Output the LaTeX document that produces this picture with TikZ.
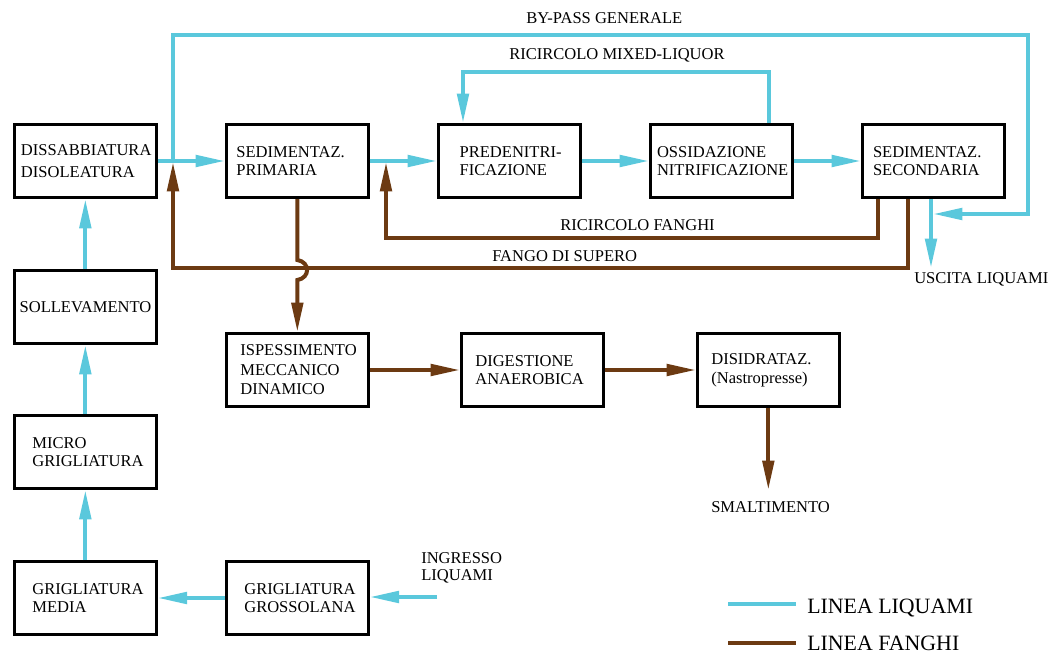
\documentclass[tikz,border=0pt]{standalone}
\usepackage{fontspec}
\setmainfont{Liberation Serif}
\usetikzlibrary{arrows.meta}
\definecolor{liq}{RGB}{90,200,220}
\definecolor{fan}{RGB}{108,58,18}
\hyphenpenalty=10000
\exhyphenpenalty=10000

\begin{document}
\begin{tikzpicture}[x=0.75pt,y=-0.75pt,
  every node/.style={font=\fontsize{12.4}{14}\selectfont},
  unit/.style 2 args={draw, line width=2pt, anchor=north west,
    minimum height=55pt, inner ysep=0pt, inner xsep=#1, text width=#2, align=left},
  lbl/.style={anchor=base west, inner sep=0pt},
  liqline/.style={draw=liq, line width=3pt},
  fanline/.style={draw=fan, line width=3pt},
  flowtip/.style={-{Triangle[length=22pt,width=8.5pt]}},
]
\useasboundingbox (0,0) rectangle (1051,653);

% treatment units: water line
\node[unit={5pt}{96.5pt}]   (dis)  at (13,123)  {DISSABBIATURA\\[2.3pt]DISOLEATURA};
\node[unit={7.5pt}{91.5pt}] (sedp) at (225,123) {SEDIMENTAZ.\\PRIMARIA};
\node[unit={16pt}{74.5pt}]  (pred) at (437,123) {\mbox{PREDENITRI-}\\FICAZIONE};
\node[unit={5pt}{96.5pt}]   (ossi) at (649,123) {OSSIDAZIONE\\NITRIFICAZIONE};
\node[unit={8pt}{90.5pt}]   (seds) at (861,123) {SEDIMENTAZ.\\SECONDARIA};
\node[unit={4pt}{98.5pt}]   (soll) at (13,269)  {SOLLEVAMENTO};
\node[unit={13.5pt}{79.5pt}] (micro) at (13,414) {MICRO\\GRIGLIATURA};
\node[unit={13.5pt}{79.5pt}] (media) at (13,560) {GRIGLIATURA\\MEDIA};
\node[unit={13.5pt}{79.5pt}] (gross) at (225,560) {GRIGLIATURA\\GROSSOLANA};

% treatment units: sludge line
\node[unit={10.5pt}{85.5pt}] (isp)   at (225,332) {ISPESSIMENTO\\[0.6pt]MECCANICO\\[0.6pt]DINAMICO};
\node[unit={10.5pt}{85.5pt}] (dig)   at (460,332) {DIGESTIONE\\ANAEROBICA};
\node[unit={10.5pt}{85.5pt}] (disid) at (696,332) {DISIDRATAZ.\\(Nastropresse)};

% free ends and bends
\coordinate (in)   at (437,597);
\coordinate (bpA)  at (173,160);
\coordinate (bpB)  at (1028,35);
\coordinate (bpC)  at (933,214);
\coordinate (out)  at (931,268);
\coordinate (mlA)  at (769,72);
\coordinate (mlB)  at (463,72);
\coordinate (rfA)  at (878,238);
\coordinate (rfB)  at (386,162);
\coordinate (fsA)  at (908,268);
\coordinate (fsB)  at (173,162);
\path (sedp.south) ++(0,61) coordinate (jA) ++(0,20) coordinate (jB);
\coordinate (sm)   at (767,490);

% water line
\draw[liqline,flowtip] (in) -- (gross.east |- in);
\draw[liqline,flowtip] (gross.west) -- (media.east);
\draw[liqline,flowtip] (media.north) -- (micro.south);
\draw[liqline,flowtip] (micro.north) -- (soll.south);
\draw[liqline,flowtip] (soll.north) -- (dis.south);
\draw[liqline,flowtip] (dis.east) -- (sedp.west);
\draw[liqline,flowtip] (sedp.east) -- (pred.west);
\draw[liqline,flowtip] (pred.east) -- (ossi.west);
\draw[liqline,flowtip] (ossi.east) -- (seds.west);
\draw[liqline,flowtip] (ossi.north -| mlA) -- (mlA) -| (pred.north -| mlB);
\draw[liqline,flowtip] (bpA) |- (bpB) |- (bpC);
\draw[liqline,flowtip] (seds.south -| out) -- (out);

% sludge line (the primary sludge pipe hops over the excess sludge pipe)
\draw[fanline,flowtip] (seds.south -| rfA) -- (rfA) -| (rfB);
\draw[fanline,flowtip] (seds.south -| fsA) -- (fsA) -| (fsB);
\draw[fanline,flowtip] (sedp.south) -- (jA)
  .. controls +(13,2) and +(13,-2) .. (jB) -- (isp.north);
\draw[fanline,flowtip] (isp.east) -- (dig.west);
\draw[fanline,flowtip] (dig.east) -- (disid.west);
\draw[fanline,flowtip] (disid.south) -- (disid.south |- sm);

% line labels
\node[lbl] (lbyp) at (526,23)  {BY-PASS GENERALE};
\node[lbl] (lmix) at (509,60)  {RICIRCOLO MIXED-LIQUOR};
\node[lbl] (lrf)  at (560,230) {RICIRCOLO FANGHI};
\node[lbl] (lfs)  at (492,261) {FANGO DI SUPERO};
\node[lbl] (lout) at (914,283) {USCITA LIQUAMI};
\node[lbl] (lsm)  at (711,512) {SMALTIMENTO};
\node[anchor=north west, inner sep=0pt, align=left,
      font=\fontsize{12.4}{13}\selectfont] (lin) at (421,552) {INGRESSO\\LIQUAMI};

% legend
\coordinate (lgA) at (728,604);
\coordinate (lgB) at (728,643);
\draw[draw=liq, line width=3.5pt] (lgA) -- ++(68,0);
\draw[draw=fan, line width=3.5pt] (lgB) -- ++(68,0);
\node[lbl, font=\fontsize{16.4}{19}\selectfont] (lg1) at (807,613) {LINEA LIQUAMI};
\node[lbl, font=\fontsize{16.4}{19}\selectfont] (lg2) at (807,650) {LINEA FANGHI};
\end{tikzpicture}
\end{document}
